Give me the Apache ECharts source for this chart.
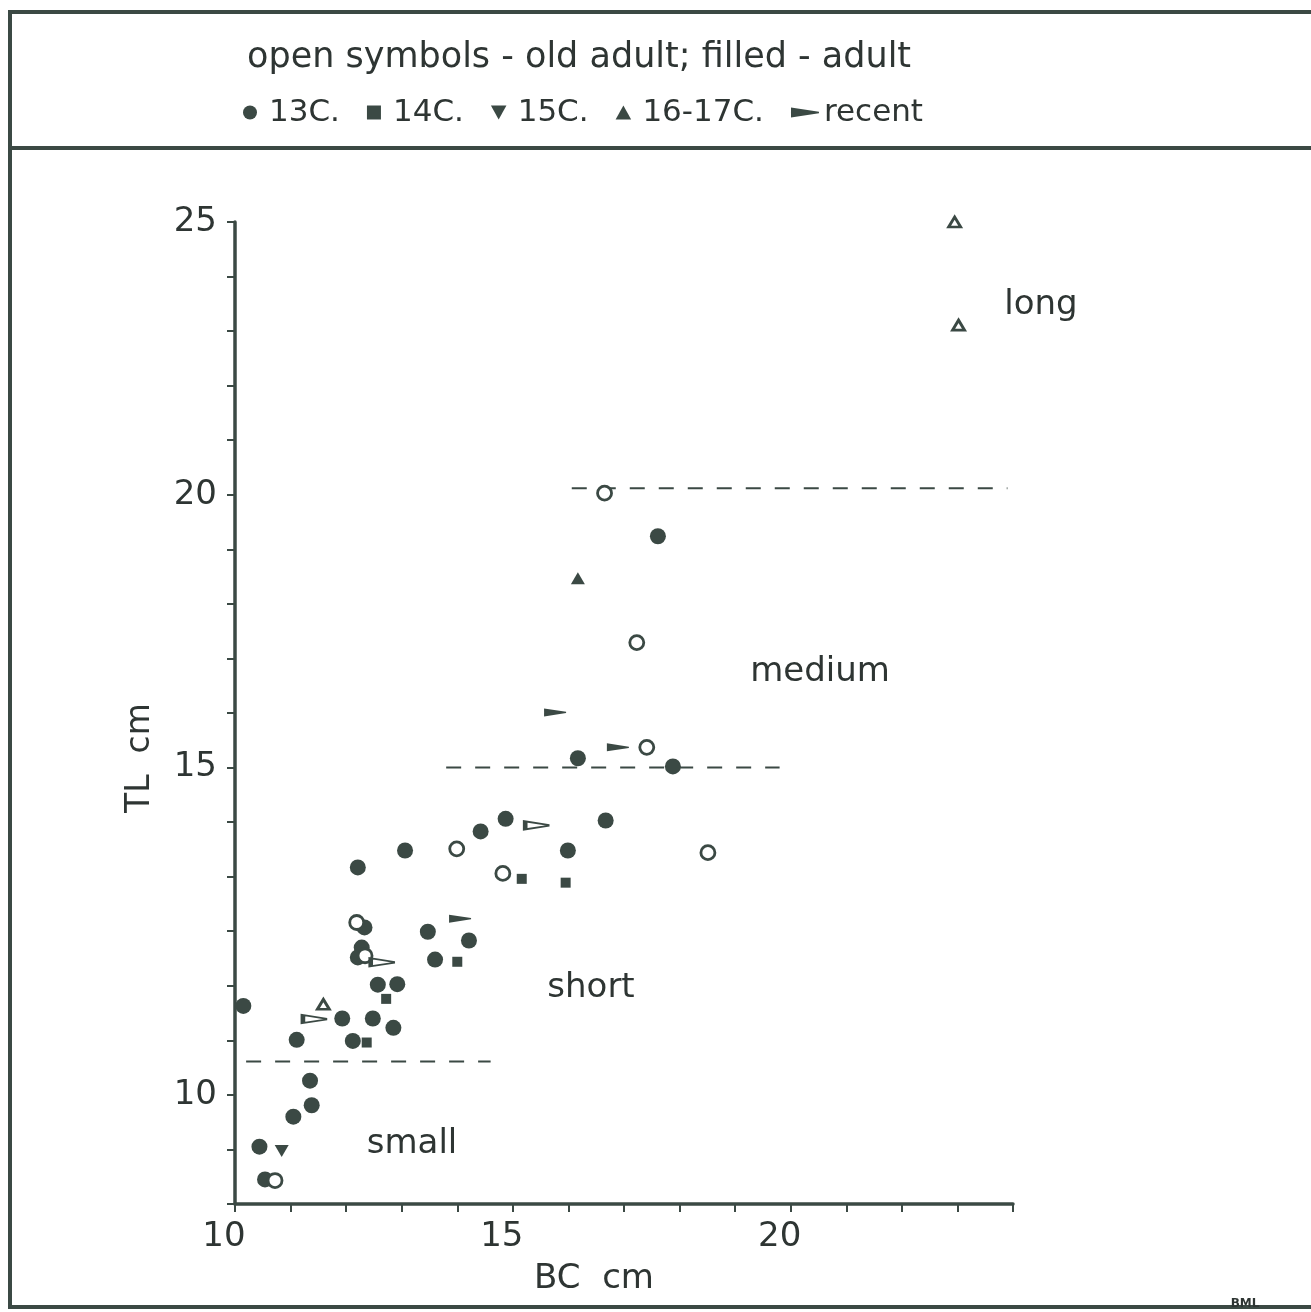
<!DOCTYPE html>
<html>
<head>
<meta charset="utf-8">
<title>TL vs BC</title>
<script src="https://cdn.jsdelivr.net/npm/echarts@6/dist/echarts.min.js"></script>
<style>
  html, body { margin: 0; padding: 0; background: #fff; }
  #main { width: 1311px; height: 1312px; }
</style>
</head>
<body>
<div id="main"></div>
<script>
// BC cm (x), TL cm (y)
var c13Adult = [
  [17.61, 19.24], [16.17, 15.17], [17.88, 15.02], [16.67, 14.03], [15.99, 13.48],
  [14.87, 14.06], [14.42, 13.83], [13.06, 13.48], [12.21, 13.17], [13.47, 11.99],
  [14.21, 11.83], [13.6, 11.48], [12.33, 12.07], [12.28, 11.7], [12.21, 11.52],
  [12.57, 11.02], [12.92, 11.03], [10.15, 10.63], [11.93, 10.4], [12.48, 10.4],
  [12.85, 10.23], [11.11, 10.01], [12.12, 9.99], [11.35, 9.26], [11.38, 8.81],
  [11.05, 8.6], [10.44, 8.05], [10.54, 7.45]
]
var c13Old = [
  [16.65, 20.03], [17.23, 17.29], [17.41, 15.37], [18.51, 13.44], [13.99, 13.51],
  [14.82, 13.06], [12.19, 12.16], [12.34, 11.55], [10.72, 7.43]
]
var c14Adult = [[15.95, 12.89], [15.16, 12.96], [14.0, 11.44], [12.72, 10.76], [12.37, 9.96]]
var c15Adult = [[10.84, 7.97]]
var c1617Adult = [[16.17, 18.47]]
var c1617Old = [[22.95, 25.0], [23.02, 23.11], [11.59, 10.66]]
var recentAdult = [[15.76, 16.01], [16.89, 15.37], [14.05, 12.23]]
var recentOld = [[15.42, 13.94], [12.64, 11.43], [11.42, 10.39]]

// dashed boundaries: small / short, short / medium, medium / long
var lineSmall = [[10.2, 9.61], [14.6, 9.61]]
var lineShort = [[13.8, 15.0], [19.8, 15.0]]
var lineMedium = [[16.06, 20.12], [23.9, 20.12]]

var yTickLabels = { 25: '25', 20: '20', 15: '15', 9: '10' }
var xTickLabels = { 10: '10', 15: '15', 20: '20' }

var ink = '#3b4944'
var textColor = '#2e3533'
var font = 'DejaVu Sans'
var wedge = 'path://M0,0 L22,3.4 L22,4.6 L0,8 Z'
var square = 'path://M0,0 L10,0 L10,10 L0,10 Z'
var triUp = 'path://M5,0 L10,9 L0,9 Z'
var triDown = 'path://M0,0 L10,0 L5,9 Z'

var myChart = echarts.init(document.getElementById('main'))

function filled(name, data, symbol, size) {
  return {
    name: name,
    type: 'scatter',
    data: data,
    symbol: symbol,
    symbolSize: size,
    itemStyle: { color: ink, opacity: 1 },
    z: 3
  }
}
function open(name, data, symbol, size) {
  return {
    name: name,
    type: 'scatter',
    data: data,
    symbol: symbol,
    symbolSize: size,
    itemStyle: { color: '#fff', borderColor: ink, borderWidth: 2.8, opacity: 1 },
    z: 4
  }
}
function dashed(data) {
  return {
    type: 'line',
    data: data,
    symbol: 'none',
    silent: true,
    lineStyle: { color: ink, width: 2, type: [15, 14] },
    z: 2
  }
}
function note(text, x, y) {
  return {
    type: 'text',
    x: x,
    y: y,
    style: { text: text, fill: textColor, font: '34px "DejaVu Sans"', align: 'center', verticalAlign: 'middle' }
  }
}

var option = {
  backgroundColor: '#fff',
  animation: false,
  textStyle: { fontFamily: font },
  grid: { left: 235, top: 222, width: 778, height: 982 },
  legend: {
    data: [
      { name: '13C.', icon: 'circle' },
      { name: '14C.', icon: square },
      { name: '15C.', icon: triDown },
      { name: '16-17C.', icon: triUp },
      { name: 'recent', icon: wedge }
    ],
    left: 238,
    top: 92,
    itemGap: 27,
    itemWidth: 28,
    itemHeight: 14,
    selectedMode: false,
    textStyle: { color: textColor, fontSize: 31, fontFamily: font }
  },
  xAxis: {
    type: 'value',
    min: 10,
    max: 24,
    interval: 1,
    splitLine: { show: false },
    axisLine: { onZero: false, lineStyle: { color: ink, width: 3.5 } },
    axisTick: { length: 8, lineStyle: { color: ink, width: 2 } },
    axisLabel: {
      color: textColor,
      fontSize: 34,
      margin: 16,
      padding: [0, 22, 0, 0],
      formatter: function (v) { return xTickLabels[v] || '' }
    }
  },
  yAxis: {
    type: 'value',
    min: 7,
    max: 25,
    interval: 1,
    splitLine: { show: false },
    axisLine: { onZero: false, lineStyle: { color: ink, width: 3.5 } },
    axisTick: { length: 8, lineStyle: { color: ink, width: 2 } },
    axisLabel: {
      color: textColor,
      fontSize: 34,
      margin: 18,
      formatter: function (v) { return yTickLabels[v] || '' }
    }
  },
  graphic: [
    { type: 'rect', shape: { x: 10, y: 12, width: 1330, height: 1295 }, style: { fill: 'none', stroke: ink, lineWidth: 4 }, silent: true },
    { type: 'line', shape: { x1: 10, y1: 148, x2: 1311, y2: 148 }, style: { stroke: ink, lineWidth: 4 }, silent: true },
    { type: 'text', left: 247, top: 40, style: { text: 'open symbols - old adult; filled - adult', fill: textColor, font: '35px "DejaVu Sans"' } },
    { type: 'text', x: 140, y: 758, rotation: Math.PI / 2, style: { text: 'TL  cm', fill: textColor, font: '33px "DejaVu Sans"', align: 'center', verticalAlign: 'middle' } },
    note('BC  cm', 594, 1279),
    note('small', 412, 1144),
    note('short', 591, 988),
    note('medium', 820, 672),
    note('long', 1041, 305),
    { type: 'text', x: 1245, y: 1304, style: { text: 'BML', fill: textColor, font: 'bold 12px "DejaVu Sans"', align: 'center', verticalAlign: 'middle' } }
  ],
  series: [
    dashed(lineSmall),
    dashed(lineShort),
    dashed(lineMedium),
    filled('13C.', c13Adult, 'circle', 16),
    open('13C.', c13Old, 'circle', 14),
    filled('14C.', c14Adult, square, 10),
    filled('15C.', c15Adult, triDown, [14, 12]),
    filled('16-17C.', c1617Adult, triUp, [14, 12]),
    open('16-17C.', c1617Old, triUp, [12, 10]),
    filled('recent', recentAdult, wedge, [22, 8]),
    open('recent', recentOld, wedge, [22, 8])
  ]
}

myChart.setOption(option)
</script>
</body>
</html>
